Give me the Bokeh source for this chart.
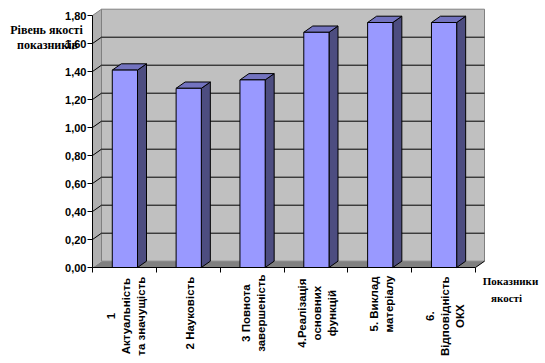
import math
from bokeh.plotting import figure
from bokeh.models import (LinearAxis, FixedTicker, CustomJSTickFormatter, Range1d,
                          Label, LabelSet, ColumnDataSource)
from bokeh.core.properties import value
from bokeh.embed import file_html
from bokeh.resources import INLINE

# ---------------- data ----------------
categories = [
    "1\nАктуальність\nта значущість",
    "2 Науковість",
    "3 Повнота\nзавершеність",
    "4.Реалізація\nосновних\nфункцій",
    "5. Виклад\nматеріалу",
    "6.\nВідповідність\nОКХ",
]
values = [1.41, 1.28, 1.34, 1.68, 1.75, 1.75]
y_ticks = [0.0, 0.2, 0.4, 0.6, 0.8, 1.0, 1.2, 1.4, 1.6, 1.8]
y_title_lines = ["Рівень якості", "показників"]
x_title_lines = ["Показники", "якості"]

# ---------------- geometry (pixels of the 545x360 canvas) ----------------
W, H = 545, 360
ORIGIN_X, ORIGIN_Y = 92, 267     # pixel position of (0, 0)
n = len(categories)
y_max = y_ticks[-1]
px_x = 383.0 / n          # pixels per category
px_y = 252.0 / y_max      # pixels per value unit
dx = 9.0 / px_x           # 3D depth offsets
dy = 6.3 / px_y
bar_off = 0.31
bar_w = 0.395

WALL = "#c0c0c0"
SIDE_WALL = "#b0b0b0"
FLOOR = "#808080"
FRONT = "#9999ff"
TOP = "#7373bf"
SIDE = "#4d4d80"


def px2x(px):
    return (px - ORIGIN_X) / px_x


def px2y(py):
    return (ORIGIN_Y - py) / px_y


p = figure(width=W, height=H,
           x_range=Range1d(px2x(0), px2x(W)), y_range=Range1d(px2y(H), px2y(0)),
           output_backend="svg", toolbar_location=None, title=None,
           x_axis_type=None, y_axis_type=None, min_border=0)
p.outline_line_color = None
p.background_fill_color = "white"
p.border_fill_color = "white"

# walls and floor
p.patch([0, dx, dx, 0], [0, dy, y_max + dy, y_max], fill_color=SIDE_WALL, line_color=None)
p.patch([dx, n + dx, n + dx, dx], [dy, dy, y_max + dy, y_max + dy],
        fill_color=WALL, line_color="#808080", line_width=1)
p.patch([0, n, n + dx, dx], [0, 0, dy, dy], fill_color=FLOOR, line_color=None)
p.line([0, dx], [y_max, y_max + dy], line_color="#808080", line_width=1)

# gridlines on the back wall and the side wall
grid_vals = y_ticks[1:-1]
p.segment(x0=[dx] * len(grid_vals), y0=[v + dy for v in grid_vals],
          x1=[n + dx] * len(grid_vals), y1=[v + dy for v in grid_vals],
          line_color="black", line_width=1)
p.segment(x0=[0] * len(grid_vals), y0=grid_vals,
          x1=[dx] * len(grid_vals), y1=[v + dy for v in grid_vals],
          line_color="black", line_width=1)
p.line([n, n + dx], [0, dy], line_color="black", line_width=1)

# bars
left = [i + bar_off for i in range(n)]
right = [l + bar_w for l in left]
side_xs = [[r, r + dx, r + dx, r] for r in right]
side_ys = [[0, dy, v + dy, v] for v in values]
top_xs = [[l, r, r + dx, l + dx] for l, r in zip(left, right)]
top_ys = [[v, v, v + dy, v + dy] for v in values]
p.patches(side_xs, side_ys, fill_color=SIDE, line_color="black", line_width=1)
p.patches(top_xs, top_ys, fill_color=TOP, line_color="black", line_width=1)
p.quad(left=left, right=right, bottom=0, top=values,
       fill_color=FRONT, line_color="black", line_width=1)

# y axis (fixed at x = 0)
yaxis = LinearAxis(ticker=FixedTicker(ticks=y_ticks, minor_ticks=[]),
                   formatter=CustomJSTickFormatter(code="return tick.toFixed(2).replace('.', ',');"),
                   bounds=(0, y_max), fixed_location=0)
yaxis.axis_line_color = "black"
yaxis.major_tick_out = 5
yaxis.major_tick_in = 0
yaxis.major_label_standoff = 1
yaxis.major_label_text_font = "Liberation Sans"
yaxis.major_label_text_font_style = "bold"
yaxis.major_label_text_font_size = "11px"
yaxis.major_label_text_color = "black"
p.add_layout(yaxis, "left")

# x axis (fixed at y = 0): category boundary ticks
xaxis = LinearAxis(ticker=FixedTicker(ticks=list(range(n + 1)), minor_ticks=[]),
                   bounds=(0, n), fixed_location=0)
xaxis.axis_line_color = "black"
xaxis.major_tick_out = 5
xaxis.major_tick_in = 0
xaxis.major_label_text_font_size = "0px"
xaxis.major_label_text_color = None
p.add_layout(xaxis, "below")

# rotated category labels: one entry per line, lines centred on the block centre
CHAR_W = 6.1      # approx. px per char of bold 11.5px label text
LINE_SP = 15.0    # px between label lines
lx, ly, lt = [], [], []
for i, cat in enumerate(categories):
    lines = cat.split("\n")
    m = len(lines)
    yc = px2y(276 + CHAR_W * max(len(s) for s in lines) / 2)
    for k, s in enumerate(lines):
        lx.append(i + 0.5 + (1.5 + (k - (m - 1) / 2) * LINE_SP) / px_x)
        ly.append(yc)
        lt.append(s)
label_src = ColumnDataSource(dict(x=lx, y=ly, text=lt))
p.add_layout(LabelSet(x="x", y="y", text="text", source=label_src, angle=math.pi / 2,
                      text_align="center", text_baseline="middle",
                      text_font=value("Liberation Sans"), text_font_style="bold",
                      text_font_size="11.5px", text_color="black"))

# axis titles
for txt, cx, cy in zip(y_title_lines, [46, 47], [29, 44]):
    p.add_layout(Label(x=px2x(cx), y=px2y(cy), text=txt, text_align="center",
                       text_baseline="middle", text_font="Liberation Serif",
                       text_font_style="bold", text_font_size="12px", text_color="black"))
for txt, cx, cy in zip(x_title_lines, [510, 506], [280, 297]):
    p.add_layout(Label(x=px2x(cx), y=px2y(cy), text=txt, text_align="center",
                       text_baseline="middle", text_font="Liberation Serif",
                       text_font_style="bold", text_font_size="11px", text_color="black"))

open("out.html", "w").write(file_html(p, INLINE))
